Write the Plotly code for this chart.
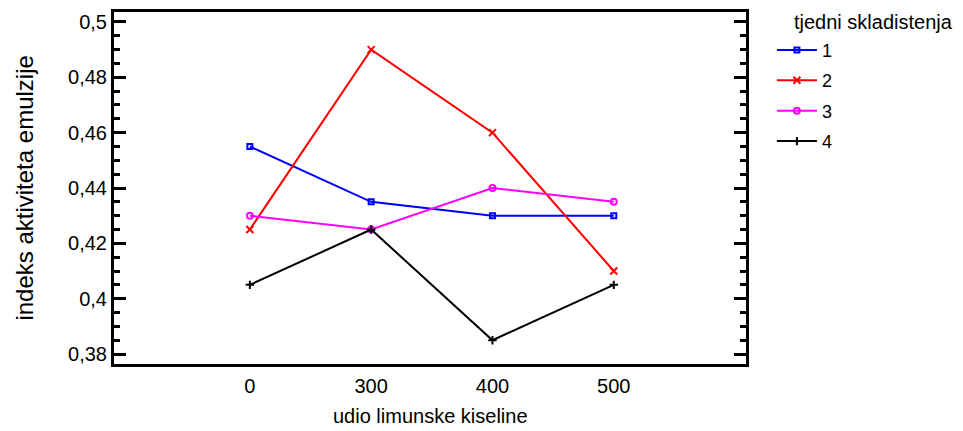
import plotly.graph_objects as go

categories = ["0", "300", "400", "500"]
series_names = ["1", "2", "3", "4"]
s1 = [0.455, 0.435, 0.430, 0.430]
s2 = [0.425, 0.490, 0.460, 0.410]
s3 = [0.430, 0.425, 0.440, 0.435]
s4 = [0.405, 0.425, 0.385, 0.405]
y_ticks = [0.38, 0.40, 0.42, 0.44, 0.46, 0.48, 0.50]
y_tick_labels = ["0,38", "0,4", "0,42", "0,44", "0,46", "0,48", "0,5"]

colors = ["#0000FF", "#FF0000", "#FF00FF", "#000000"]
symbols = ["square-open", "x-thin-open", "circle-open", "cross-thin-open"]
sizes = [5, 7, 6, 6]

fig = go.Figure()
for i, (name, vals) in enumerate(zip(series_names, [s1, s2, s3, s4])):
    fig.add_trace(go.Scatter(
        x=categories, y=vals, name=name, mode="lines+markers",
        line=dict(color=colors[i], width=2),
        marker=dict(symbol=symbols[i], size=sizes[i], color=colors[i],
                    line=dict(color=colors[i], width=2)),
        legendgroup=name,
    ))

font_family = "Liberation Sans, Arial, sans-serif"
# page body has an 8px margin, so the figure is sized to fit the window
fig.update_layout(
    width=955, height=423,
    margin=dict(l=106, r=217, t=4, b=67),
    plot_bgcolor="white", paper_bgcolor="white",
    font=dict(family=font_family, size=16, color="black"),
    showlegend=True,
    legend=dict(
        x=1.041, y=0.944, xanchor="left", yanchor="top",
        font=dict(size=18), traceorder="grouped", tracegroupgap=4,
        bgcolor="rgba(0,0,0,0)", itemwidth=40,
    ),
    annotations=[
        dict(text="tjedni skladistenja", x=1.073, y=0.972, xref="paper", yref="paper",
             xanchor="left", yanchor="middle", showarrow=False,
             font=dict(size=20)),
        dict(text="udio limunske kiseline", x=0.5, y=-0.148, xref="paper", yref="paper",
             xanchor="center", yanchor="middle", showarrow=False,
             font=dict(size=20)),
        dict(text="indeks aktiviteta emulzije", x=-0.143, y=0.5, xref="paper", yref="paper",
             xanchor="center", yanchor="middle", showarrow=False, textangle=-90,
             font=dict(size=24)),
    ],
    xaxis=dict(
        type="category", range=[-1.12, 4.09], automargin=False,
        showline=True, linecolor="black", linewidth=3, mirror=True,
        ticks="", showgrid=False, zeroline=False,
        tickfont=dict(size=20), ticklabelstandoff=2,
    ),
    yaxis=dict(
        range=[0.3764, 0.5036], automargin=False,
        tickvals=y_ticks, ticktext=y_tick_labels,
        showline=True, linecolor="black", linewidth=3, mirror="ticks",
        ticks="inside", ticklen=12, tickwidth=3, tickcolor="black",
        minor=dict(dtick=0.005, ticks="inside", ticklen=6, tickwidth=3, tickcolor="black", showgrid=False),
        showgrid=False, zeroline=False,
        tickfont=dict(size=20),
    ),
)

fig.write_html("out.html")
